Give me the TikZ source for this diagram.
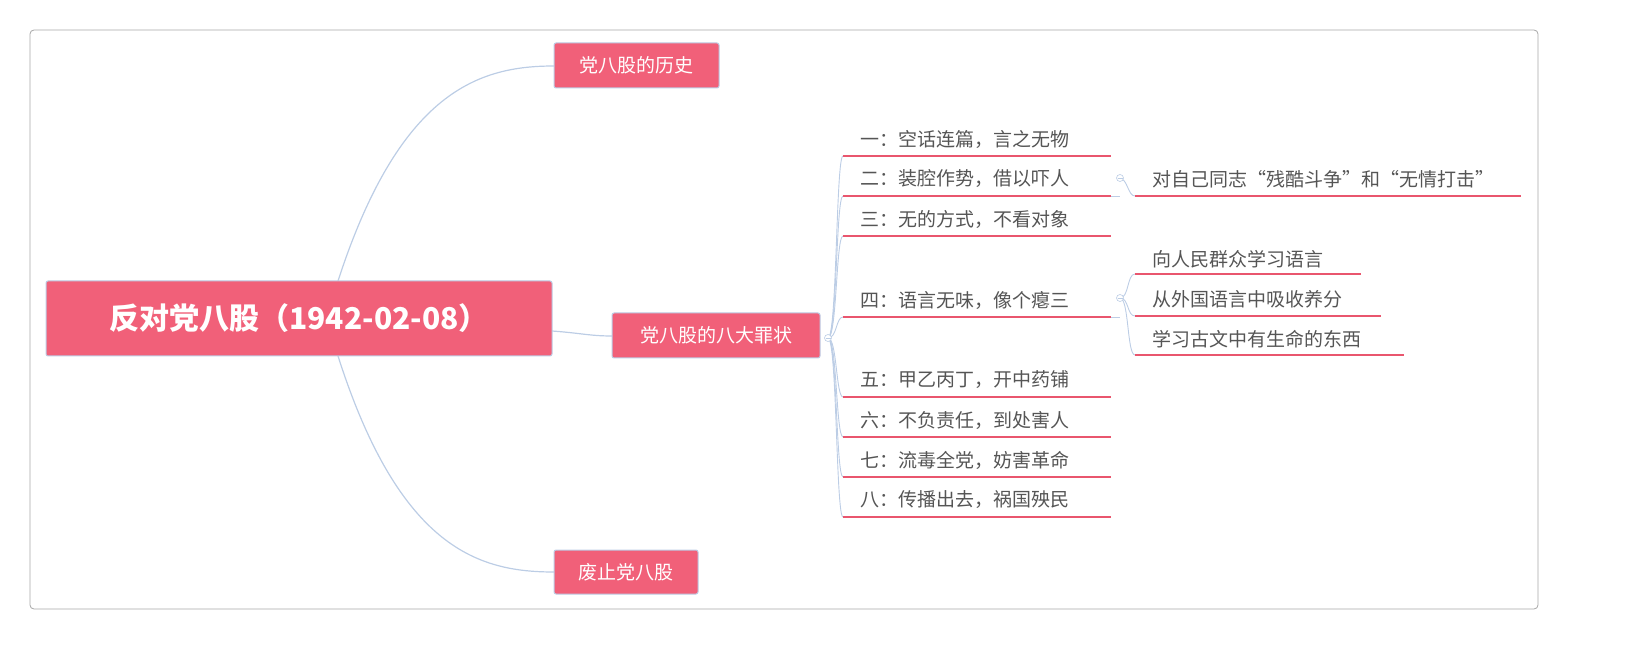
\documentclass[tikz,border=0pt]{standalone}
\usepackage{fontspec}
\setmainfont{Noto Sans CJK SC}
\begin{document}
\begin{tikzpicture}[x=1pt,y=-1pt,
 conn/.style={draw=lineblue,line width=1.2pt},
 topic/.style={fill=pinkc,draw=lineblue,line width=1pt,rounded corners=2pt,text=white,font=\fontsize{19}{22}\selectfont,inner sep=0pt,anchor=center},
 leaf/.style={font=\fontsize{19}{22}\selectfont,text=textgray,anchor=west,inner sep=0pt},
 uline/.style={draw=ulinec,line width=2pt},
 col/.style={circle,draw=lineblue,fill=white,minimum size=7pt,inner sep=0pt,line width=0.6pt}]
\definecolor{pinkc}{HTML}{F16079}
\definecolor{lineblue}{HTML}{BCCDE5}
\definecolor{ulinec}{HTML}{E9566E}
\definecolor{textgray}{HTML}{555555}
\draw[draw=gray!70,rounded corners=4pt,line width=0.8pt] (30,30) rectangle (1538,609);
% connectors
\coordinate (rt) at (338,281); \coordinate (rb) at (338,356); \coordinate (rr) at (552,331);
\draw[conn] (rt) .. controls (400,90) and (480,66) .. (554,66);
\draw[conn] (rb) .. controls (400,550) and (480,572) .. (554,572);
\draw[conn] (rr) .. controls (580,333) and (590,336) .. (612,336);
% nodes
\node[topic,minimum width=506pt,minimum height=75pt,font=\bfseries\fontsize{30}{34}\selectfont] (root) at (299,318.5) {反对党八股（1942-02-08）};
\node[topic,minimum width=165pt,minimum height=45pt] (b1) at (636.5,65.5) {党八股的历史};
\node[topic,minimum width=208pt,minimum height=45pt] (b2) at (716,335.5) {党八股的八大罪状};
\node[topic,minimum width=144pt,minimum height=44pt] (b3) at (626,572) {废止党八股};
% leaves
\coordinate (hub) at (828,338);
\foreach \ty/\uy/\t [count=\i] in {139/156/一：空话连篇，言之无物, 179/196/二：装腔作势，借以吓人, 219/236/三：无的方式，不看对象, 300/317/四：语言无味，像个瘪三, 380/397/五：甲乙丙丁，开中药铺, 420/437/六：不负责任，到处害人, 460/477/七：流毒全党，妨害革命, 500/517/八：传播出去，祸国殃民}{
  \node[leaf] (l\i) at (860,\ty) {\t};
  \coordinate (ul\i) at (843,\uy);
  \draw[conn,line width=0.9pt] (hub) .. controls (837,338) and (836,\uy) .. (ul\i);
  \draw[uline] (ul\i) -- (1111,\uy);
}
\node[col] (c0) at (hub) {}; \draw[lineblue,line width=0.6pt] (825.5,338)--(830.5,338);
% sub of 二
\coordinate (h2) at (1120,178);
\node[leaf] (s1) at (1152,179) {对自己同志“残酷斗争”和“无情打击”};
\coordinate (us1) at (1135,196);
\draw[conn,line width=0.9pt] (1111,196) -- (1120,196);
\draw[conn,line width=0.9pt] (h2) .. controls (1128,180) and (1128,196) .. (us1);
\draw[uline] (us1) -- (1521,196);
\node[col] at (h2) {}; \draw[lineblue,line width=0.6pt] (1117.5,178)--(1122.5,178);
% sub of 四
\coordinate (h4) at (1120,298);
\draw[conn,line width=0.9pt] (1111,317) -- (1120,317);
\foreach \ty/\uy/\ue/\t [count=\j] in {259/274/1361/向人民群众学习语言, 299/316/1381/从外国语言中吸收养分, 339/355/1404/学习古文中有生命的东西}{
  \node[leaf] (t\j) at (1152,\ty) {\t};
  \coordinate (ut\j) at (1135,\uy);
  \draw[conn,line width=0.9pt] (h4) .. controls (1129,298) and (1127,\uy) .. (ut\j);
  \draw[uline] (ut\j) -- (\ue,\uy);
}
\node[col] at (h4) {}; \draw[lineblue,line width=0.6pt] (1117.5,298)--(1122.5,298);
\pgfresetboundingbox
\useasboundingbox (0,0) rectangle (1639,668);
\end{tikzpicture}
\end{document}
